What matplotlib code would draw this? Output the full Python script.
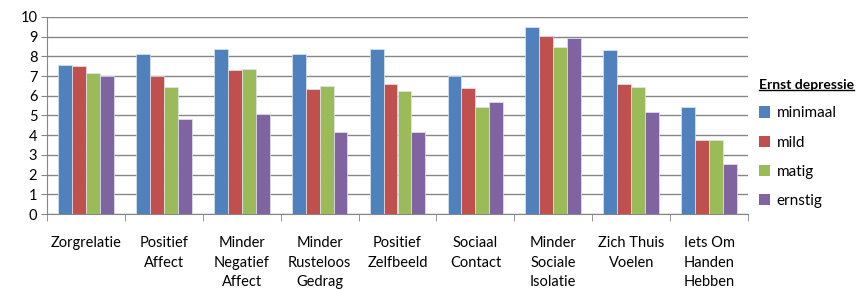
import matplotlib.pyplot as plt
import numpy as np
from matplotlib.patches import Patch
from matplotlib.lines import Line2D

plt.rcParams['font.family'] = ['Lato', 'DejaVu Sans']

# data
categories = ['Zorgrelatie', 'Positief\nAffect', 'Minder\nNegatief\nAffect',
              'Minder\nRusteloos\nGedrag', 'Positief\nZelfbeeld', 'Sociaal\nContact',
              'Minder\nSociale\nIsolatie', 'Zich Thuis\nVoelen', 'Iets Om\nHanden\nHebben']
minimaal = [7.55, 8.14, 8.40, 8.14, 8.40, 7.03, 9.49, 8.35, 5.42]
mild = [7.50, 7.03, 7.31, 6.32, 6.59, 6.41, 9.05, 6.59, 3.75]
matig = [7.18, 6.47, 7.37, 6.52, 6.22, 5.42, 8.46, 6.47, 3.75]
ernstig = [6.98, 4.80, 5.10, 4.14, 4.14, 5.69, 8.92, 5.17, 2.53]

series = [('minimaal', minimaal, '#4F81BD'),
          ('mild', mild, '#C0504D'),
          ('matig', matig, '#9BBB59'),
          ('ernstig', ernstig, '#8064A2')]

fig = plt.figure(figsize=(8.56, 2.89), dpi=100)
ax = fig.add_axes([47/856, 1 - 214/289, 701/856, 197/289])

x = np.arange(len(categories))
w = 0.179
for i, (name, vals, col) in enumerate(series):
    ax.bar(x + (i - 1.5) * w, vals, w, color=col, edgecolor='#dfe6f0',
           linewidth=0.5, zorder=3)

ax.set_xlim(-0.5, len(categories) - 0.5)
ax.set_ylim(0, 10)
ax.set_yticks(range(0, 11))
ax.yaxis.grid(True, color='#868686', linewidth=1, zorder=0)
ax.tick_params(axis='y', length=4, color='#868686', labelsize=10.5, pad=3)

ax.set_xticks(x)
ax.set_xticklabels(categories, fontsize=10.5, linespacing=1.5, va='top')
ax.tick_params(axis='x', which='major', length=0, pad=16)
ax.set_xticks(np.arange(-0.5, len(categories)), minor=True)
ax.tick_params(axis='x', which='minor', length=5, color='#868686')

for s in ['top', 'right']:
    ax.spines[s].set_visible(False)
for s in ['left', 'bottom']:
    ax.spines[s].set_color('#868686')

handles = [Patch(facecolor=c, edgecolor='none') for _, _, c in series]
leg = fig.legend(handles, [n for n, _, _ in series], title='Ernst depressie',
                 loc='upper left', bbox_to_anchor=(759/856, 1 - 79/289),
                 frameon=False, fontsize=11, handlelength=0.75, handleheight=0.75,
                 handletextpad=0.4, labelspacing=1.0, borderaxespad=0,
                 borderpad=0)
leg.get_title().set_fontweight('bold')
leg.get_title().set_fontsize(10)
leg._legend_box.align = 'left'

fig.canvas.draw()
bb = leg.get_title().get_window_extent().transformed(fig.transFigure.inverted())
fig.add_artist(Line2D([bb.x0, bb.x1], [bb.y0 + 0.005, bb.y0 + 0.005],
                      color='black', linewidth=1, transform=fig.transFigure))

fig.savefig('out.png', dpi=100)
